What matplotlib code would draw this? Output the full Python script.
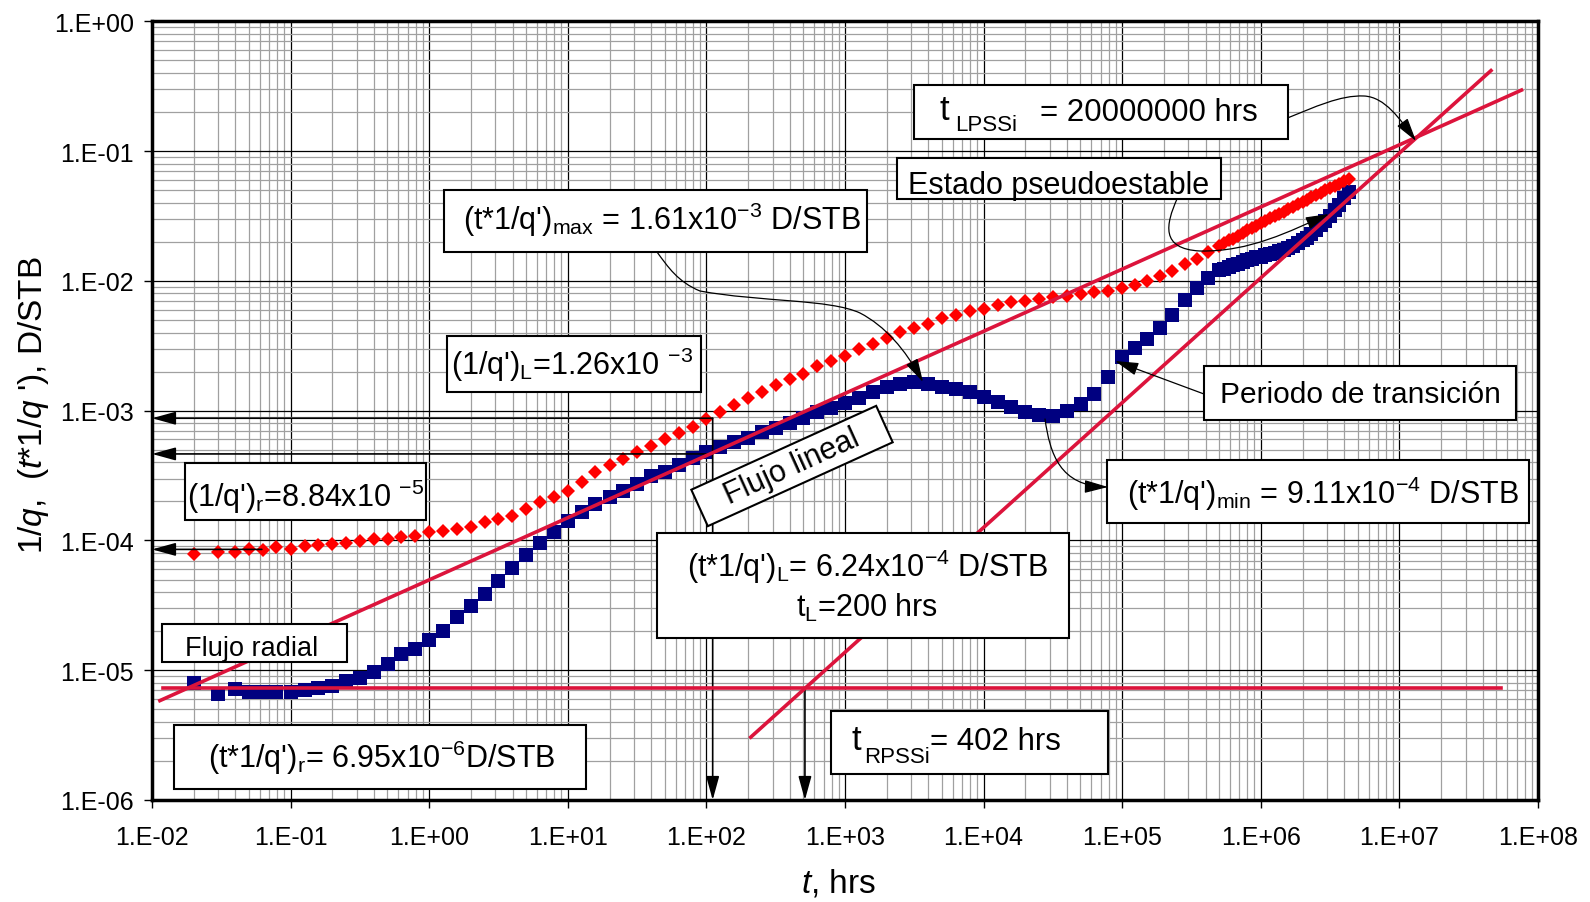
import matplotlib
matplotlib.use("Agg")
import matplotlib.pyplot as plt
import numpy as np
from matplotlib.patches import Rectangle, FancyArrowPatch
from matplotlib.path import Path
from matplotlib.ticker import LogLocator, FuncFormatter, NullFormatter

plt.rcParams['font.family'] = ['Liberation Sans', 'DejaVu Sans']
plt.rcParams['mathtext.fontset'] = 'custom'
plt.rcParams['mathtext.rm'] = 'Liberation Sans'
plt.rcParams['mathtext.it'] = 'Liberation Sans:italic'
plt.rcParams['mathtext.default'] = 'regular'

# time, hrs
t_hrs = [0.02, 0.03, 0.04, 0.05, 0.063, 0.079,
         0.1, 0.126, 0.158, 0.2, 0.251, 0.316, 0.398, 0.501, 0.631, 0.794,
         1.0, 1.26, 1.58, 2.0, 2.51, 3.16, 3.98, 5.01, 6.31, 7.94,
         10, 12.6, 15.8, 20, 25.1, 31.6, 39.8, 50.1, 63.1, 79.4,
         100, 126, 158, 200, 251, 316, 398, 501, 631, 794,
         1000, 1260, 1580, 2000, 2510, 3160, 3980, 5010, 6310, 7940,
         1.0e4, 1.26e4, 1.58e4, 2.0e4, 2.51e4, 3.16e4, 3.98e4, 5.01e4, 6.31e4, 7.94e4,
         1.0e5, 1.23e5, 1.51e5, 1.86e5, 2.29e5, 2.82e5, 3.47e5, 4.17e5,
         5.0e5, 5.4e5, 5.9e5, 6.3e5, 6.8e5, 7.4e5, 8.0e5, 8.6e5, 9.3e5,
         1.0e6, 1.08e6, 1.17e6, 1.26e6, 1.36e6, 1.47e6, 1.58e6, 1.71e6, 1.85e6,
         2.0e6, 2.15e6, 2.32e6, 2.51e6, 2.71e6, 2.92e6, 3.16e6, 3.41e6, 3.68e6, 3.98e6, 4.3e6]

# 1/q  (red diamonds)
inv_q = [7.87e-5, 8.11e-5, 8.13e-5, 8.59e-5, 8.49e-5, 8.87e-5,
         8.59e-5, 9.12e-5, 9.23e-5, 9.40e-5, 9.51e-5, 9.98e-5, 1.028e-4, 1.028e-4, 1.059e-4, 1.089e-4,
         1.156e-4, 1.191e-4, 1.227e-4, 1.265e-4, 1.380e-4, 1.466e-4, 1.552e-4, 1.750e-4, 1.968e-4, 2.153e-4,
         2.42e-4, 2.82e-4, 3.39e-4, 3.80e-4, 4.21e-4, 4.76e-4, 5.32e-4, 6.0e-4, 6.68e-4, 7.53e-4,
         8.63e-4, 9.75e-4, 1.10e-3, 1.247e-3, 1.384e-3, 1.563e-3, 1.758e-3, 1.91e-3, 2.19e-3, 2.43e-3,
         2.66e-3, 2.97e-3, 3.26e-3, 3.61e-3, 4.03e-3, 4.34e-3, 4.65e-3, 5.15e-3, 5.42e-3, 5.81e-3,
         6.07e-3, 6.56e-3, 6.92e-3, 7.05e-3, 7.24e-3, 7.48e-3, 7.71e-3, 7.91e-3, 8.15e-3, 8.39e-3,
         8.87e-3, 9.25e-3, 9.89e-3, 1.089e-2, 1.197e-2, 1.337e-2, 1.486e-2, 1.663e-2,
         1.871e-2, 1.96e-2, 2.06e-2, 2.12e-2, 2.23e-2, 2.34e-2, 2.45e-2, 2.55e-2, 2.67e-2,
         2.78e-2, 2.90e-2, 3.03e-2, 3.15e-2, 3.28e-2, 3.42e-2, 3.56e-2, 3.72e-2, 3.88e-2,
         4.06e-2, 4.22e-2, 4.39e-2, 4.59e-2, 4.79e-2, 4.99e-2, 5.20e-2, 5.41e-2, 5.62e-2, 5.87e-2, 6.12e-2]

# t*(1/q)'  (blue squares)
t_inv_qd = [7.98e-6, 6.56e-6, 7.18e-6, 6.76e-6, 6.76e-6, 6.76e-6,
            6.76e-6, 7.10e-6, 7.26e-6, 7.53e-6, 8.32e-6, 8.67e-6, 9.70e-6, 1.119e-5, 1.337e-5, 1.459e-5,
            1.722e-5, 2.02e-5, 2.55e-5, 3.15e-5, 3.86e-5, 4.90e-5, 6.17e-5, 7.73e-5, 9.53e-5, 1.167e-4,
            1.419e-4, 1.648e-4, 1.905e-4, 2.15e-4, 2.42e-4, 2.74e-4, 3.16e-4, 3.37e-4, 3.80e-4, 4.30e-4,
            4.79e-4, 5.24e-4, 5.74e-4, 6.21e-4, 6.81e-4, 7.41e-4, 8.09e-4, 8.85e-4, 9.70e-4, 1.052e-3,
            1.151e-3, 1.262e-3, 1.380e-3, 1.514e-3, 1.600e-3, 1.652e-3, 1.611e-3, 1.524e-3, 1.472e-3, 1.396e-3,
            1.271e-3, 1.161e-3, 1.072e-3, 9.77e-4, 9.18e-4, 9.16e-4, 1.002e-3, 1.135e-3, 1.349e-3, 1.82e-3,
            2.57e-3, 3.02e-3, 3.55e-3, 4.37e-3, 5.43e-3, 7.08e-3, 8.75e-3, 1.047e-2,
            1.208e-2, 1.245e-2, 1.288e-2, 1.318e-2, 1.358e-2, 1.406e-2, 1.452e-2, 1.486e-2, 1.514e-2,
            1.538e-2, 1.574e-2, 1.603e-2, 1.637e-2, 1.687e-2, 1.738e-2, 1.799e-2, 1.871e-2, 1.959e-2,
            2.065e-2, 2.148e-2, 2.280e-2, 2.483e-2, 2.69e-2, 2.88e-2, 3.18e-2, 3.51e-2, 3.86e-2, 4.32e-2, 4.82e-2]

# straight lines drawn on the plot (end points)
radial_t = [0.0121, 5.4e7]
radial_val = [7.27e-6, 7.27e-6]
linear_t = [0.0114, 7.6e7]
linear_val = [5.83e-6, 0.295]
pss_t = [209, 4.58e7]
pss_val = [3.05e-6, 0.417]

# levels pointed at by the arrows
lvl_max = 8.74e-4
lvl_L = 4.64e-4
t_L_arrow = 111
lvl_r = 8.53e-5
t_r_end = 0.062
t_rpssi = 514

W, H = 1590, 903
fig = plt.figure(figsize=(W / 100, H / 100), dpi=100)
ax = fig.add_axes([152 / W, (H - 801) / H, (1538 - 152) / W, (801 - 22.3) / H])

red = '#ff0000'
navy = '#000080'
crimson = '#dc143c'

ax.plot(t_hrs, t_inv_qd, 's', color=navy, ms=10, mew=0, zorder=3)
ax.plot(t_hrs, inv_q, 'D', color=red, ms=7.6, mew=0, zorder=3)
ax.plot(radial_t, radial_val, color=crimson, lw=2.6, zorder=4)
ax.plot(linear_t, linear_val, color=crimson, lw=2.6, zorder=4)
ax.plot(pss_t, pss_val, color=crimson, lw=2.6, zorder=4)

ax.set_xscale('log')
ax.set_yscale('log')
ax.set_xlim(1e-2, 1e8)
ax.set_ylim(1e-6, 1)

for axis in (ax.xaxis, ax.yaxis):
    axis.set_major_locator(LogLocator(base=10, numticks=30))
    axis.set_minor_locator(LogLocator(base=10, subs=np.arange(2, 10), numticks=300))
    axis.set_major_formatter(FuncFormatter(lambda v, p: "1.E%+03d" % int(round(np.log10(v)))))
    axis.set_minor_formatter(NullFormatter())

ax.set_axisbelow(True)
ax.grid(which='minor', color='#a0a0a0', lw=0.9)
ax.grid(which='major', color='black', lw=0.9)
ax.tick_params(which='major', length=6, width=1, labelsize=18, direction='out')
ax.tick_params(which='minor', length=0)
ax.tick_params(axis='x', pad=12)
ax.tick_params(axis='y', pad=7)
for sp in ax.spines.values():
    sp.set_linewidth(2.5)


def P(x, y):
    # full-size pixel position -> inches from bottom-left
    return (x / 100, (H - y) / 100)


def box(x0, y0, x1, y1):
    fig.add_artist(Rectangle(P(x0, y1), (x1 - x0) / 100, (y1 - y0) / 100,
                             transform=fig.dpi_scale_trans, fc='white', ec='black',
                             lw=1.5, zorder=5))


def label(x, y, s, size=21.5, ha='center', va='baseline', **kw):
    fig.text(*P(x, y), s, transform=fig.dpi_scale_trans, fontsize=size,
             ha=ha, va=va, zorder=6, **kw)


def curve(pts, codes):
    verts = [P(x, y) for x, y in pts]
    fig.add_artist(FancyArrowPatch(path=Path(verts, codes), transform=fig.dpi_scale_trans,
                                   arrowstyle='-|>,head_length=1.45,head_width=0.4',
                                   mutation_scale=10, color='black', lw=0.9, zorder=4.5))


M, C4, L2 = Path.MOVETO, Path.CURVE4, Path.LINETO

# arrows pointing to the axes
arr = dict(arrowstyle='-|>,head_length=1.45,head_width=0.4', mutation_scale=10,
           color='black', lw=1.2, shrinkA=0, shrinkB=0)
ax.annotate('', xy=(1e-2, lvl_max), xytext=(t_L_arrow, lvl_max), arrowprops=arr, annotation_clip=False)
ax.annotate('', xy=(1e-2, lvl_L), xytext=(t_L_arrow, lvl_L), arrowprops=arr, annotation_clip=False)
ax.annotate('', xy=(t_L_arrow, 1e-6), xytext=(t_L_arrow, lvl_max), arrowprops=arr, annotation_clip=False)
ax.annotate('', xy=(1e-2, lvl_r), xytext=(t_r_end, lvl_r), arrowprops=arr, annotation_clip=False)
ax.annotate('', xy=(t_rpssi, 1e-6), xytext=(t_rpssi, radial_val[0]), arrowprops=arr, annotation_clip=False)

# curved call-out arrows
curve([(1285, 120), (1315, 108), (1340, 96), (1364, 97), (1385, 98), (1400, 120), (1416, 142)],
      [M, C4, C4, C4, C4, C4, C4])
curve([(1177, 200), (1166, 225), (1160, 250), (1200, 252), (1250, 253), (1290, 232), (1329, 215)],
      [M, C4, C4, C4, C4, C4, C4])
curve([(657, 253), (668, 268), (678, 283), (700, 292), (760, 303), (830, 300), (860, 314),
       (885, 327), (905, 350), (923, 383)],
      [M, C4, C4, C4, C4, C4, C4, C4, C4, C4])
curve([(1204, 395), (1115, 362)], [M, L2])
curve([(1045, 420), (1050, 455), (1060, 487), (1108, 488)], [M, C4, C4, C4])

# text boxes
box(914, 86, 1288, 140)
label(940, 120, 't', size=25, ha='left')
label(955, 131, 'LPSSi', size=16, ha='left')
label(1040, 121, '= 20000000 hrs', size=22.5, ha='left')

box(897, 159, 1221, 200)
label(1059, 194, 'Estado pseudoestable', size=22)

box(444, 191, 867, 253)
label(662, 230, r"(t*1/q')$_{max}$ = 1.61x10$^{-3}$ D/STB", size=22)

box(447, 337, 701, 393)
label(572, 375, r"(1/q')$_{L}$=1.26x10 $^{-3}$", size=22)

box(185, 464, 426, 521)
label(306, 507, r"(1/q')$_{r}$=8.84x10 $^{-5}$", size=22)

box(1204, 367, 1516, 421)
label(1360, 403, 'Periodo de transición', size=21.5)

box(1107, 461, 1529, 524)
label(1323, 504, r"(t*1/q')$_{min}$ = 9.11x10$^{-4}$ D/STB", size=22)

box(657, 534, 1069, 639)
label(867, 577, r"(t*1/q')$_{L}$= 6.24x10$^{-4}$ D/STB", size=22)
label(867, 617, r"t$_{L}$=200 hrs", size=22)

box(162, 625, 347, 663)
label(185, 656, 'Flujo radial', size=19.5, ha='left')

box(174, 726, 586, 790)
label(382, 768, r"(t*1/q')$_{r}$= 6.95x10$^{-6}$D/STB", size=22)

box(831, 712, 1108, 775)
label(852, 750, 't', size=25, ha='left')
label(864, 763, 'RPSSi', size=16, ha='left')
label(930, 750, '= 402 hrs', size=22.5, ha='left')

# rotated "Flujo lineal" box
cx, cy = P(792, 467)
bw, bh = 2.03, 0.40
fig.add_artist(Rectangle((cx - bw / 2, cy - bh / 2), bw, bh, angle=24.4, rotation_point='center',
                         transform=fig.dpi_scale_trans, fc='white', ec='black', lw=1.5, zorder=5))
fig.text(cx, cy, 'Flujo lineal', transform=fig.dpi_scale_trans, fontsize=22, rotation=24.4,
         rotation_mode='anchor', ha='center', va='center', zorder=6)

# axis titles
label(838, 884, r"$\mathit{t}$, hrs", size=24, va='center')
label(34, 405, r"1/$\mathit{q}$,  ($\mathit{t}$*1/$\mathit{q}$ '), D/STB", size=24, va='center',
      rotation=90)

fig.savefig('out.png', dpi=100)
